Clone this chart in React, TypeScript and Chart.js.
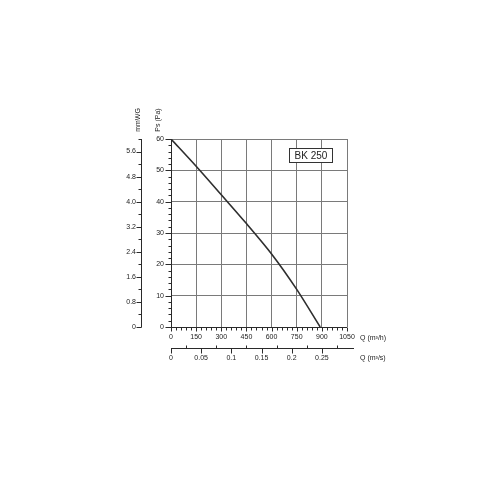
import React, { useEffect, useRef } from 'react';
import { Chart, registerables } from 'chart.js';

Chart.register(...registerables);

// ---- data ----
const FLOW_M3H = [0, 150, 300, 450, 600, 750, 890];
const PRESSURE_PA = [60, 51.3, 42.2, 33, 23.3, 12, 0];
const MODEL_LABEL = 'BK 250';
const TITLE_PA = 'Ps (Pa)';
const TITLE_MMWG = 'mmWG';
const TITLE_QH = 'Q (m³/h)';
const TITLE_QS = 'Q (m³/s)';

const FLOW_MAX_M3H = 1050;
const PA_MAX = 60;
const MMWG_MAX = 6;

const FONT = "'Liberation Sans', Arial, sans-serif";
const TEXT = '#222222';
const AXIS = '#2a2a2a';
const GRID = '#7a7a7a';

const isMult = (v: number, m: number) => Math.abs(v / m - Math.round(v / m)) < 1e-6;

const decorPlugin = {
  id: 'decor',
  afterDraw(chart: any) {
    const ctx = chart.ctx as CanvasRenderingContext2D;
    const area = chart.chartArea;
    const yPa = chart.scales.yPa;
    const yMm = chart.scales.yMm;
    const xH = chart.scales.x;
    const xS = chart.scales.xS;
    ctx.save();
    ctx.strokeStyle = AXIS;
    ctx.lineWidth = 1;
    const line = (x1: number, y1: number, x2: number, y2: number) => {
      ctx.beginPath();
      ctx.moveTo(x1, y1);
      ctx.lineTo(x2, y2);
      ctx.stroke();
    };
    const r = (v: number) => Math.round(v) + 0.5;

    // Pa axis
    const xPa = r(yPa.right);
    line(xPa, area.top, xPa, area.bottom + 0.5);
    yPa.ticks.forEach((t: any) => {
      const y = r(yPa.getPixelForValue(t.value));
      line(xPa - (isMult(t.value, 10) ? 6 : 3), y, xPa, y);
    });

    // mmWG axis
    const xMm = r(yMm.right);
    line(xMm, area.top, xMm, area.bottom + 0.5);
    yMm.ticks.forEach((t: any) => {
      const y = r(yMm.getPixelForValue(t.value));
      line(xMm - (isMult(t.value, 0.8) ? 5 : 3), y, xMm, y);
    });

    // m3/h axis
    const yH = r(xH.top);
    line(area.left, yH, area.right, yH);
    xH.ticks.forEach((t: any) => {
      const x = r(xH.getPixelForValue(t.value));
      line(x, yH, x, yH + (isMult(t.value, 150) ? 4 : 3));
    });

    // m3/s axis
    const yS = r(xS.top);
    line(area.left, yS, area.right + 7, yS);
    xS.ticks.forEach((t: any) => {
      const x = r(xS.getPixelForValue(t.value));
      if (isMult(t.value, 0.05)) line(x, yS, x, yS + 5);
      else line(x, yS - 3, x, yS);
    });

    // titles
    ctx.fillStyle = TEXT;
    ctx.font = `7px ${FONT}`;
    ctx.textBaseline = 'middle';
    ctx.textAlign = 'center';
    const rot = (txt: string, x: number, y: number) => {
      ctx.save();
      ctx.translate(x, y);
      ctx.rotate(-Math.PI / 2);
      ctx.fillText(txt, 0, 0);
      ctx.restore();
    };
    rot(TITLE_PA, yPa.right - 13, area.top - 19);
    rot(TITLE_MMWG, yMm.right - 3, area.top - 19);
    ctx.textAlign = 'left';
    ctx.fillText(TITLE_QH, area.right + 13, xH.top + 11);
    ctx.fillText(TITLE_QS, area.right + 13, xS.top + 10);

    // model label box
    const bx = area.right - 58;
    const by = area.top + 9;
    const bw = 43;
    const bh = 14;
    ctx.fillStyle = '#ffffff';
    ctx.fillRect(bx, by, bw, bh);
    ctx.strokeStyle = '#333333';
    ctx.strokeRect(Math.round(bx) + 0.5, Math.round(by) + 0.5, bw, bh);
    ctx.fillStyle = TEXT;
    ctx.font = `10px ${FONT}`;
    ctx.textAlign = 'center';
    ctx.fillText(MODEL_LABEL, bx + bw / 2 + 0.5, by + bh / 2 + 1);
    ctx.restore();
  },
};

export default function App() {
  const ref = useRef<HTMLCanvasElement | null>(null);
  useEffect(() => {
    if (!ref.current) return;
    const tickFont = { family: FONT, size: 7 };
    const chart = new Chart(ref.current, {
      type: 'scatter',
      data: {
        datasets: [
          {
            data: FLOW_M3H.map((q, i) => ({ x: q, y: PRESSURE_PA[i] })),
            showLine: true,
            borderColor: '#2e2e2e',
            borderWidth: 1.6,
            pointRadius: 0,
            tension: 0.3,
            xAxisID: 'x',
            yAxisID: 'yPa',
          },
        ],
      },
      options: {
        responsive: false,
        animation: false,
        layout: { padding: { left: 110, top: 139, right: 153, bottom: 132 } },
        plugins: { legend: { display: false }, tooltip: { enabled: false } },
        scales: {
          x: {
            type: 'linear',
            position: 'bottom',
            weight: 0,
            min: 0,
            max: FLOW_MAX_M3H,
            ticks: {
              stepSize: 30,
              autoSkip: false,
              maxRotation: 0,
              padding: 6,
              font: tickFont,
              color: TEXT,
              callback: (v: any) => (isMult(v, 150) ? String(v) : ''),
            },
            grid: {
              drawTicks: false,
              color: (c: any) => (c.tick && isMult(c.tick.value, 150) ? GRID : 'rgba(0,0,0,0)'),
              lineWidth: 1,
            },
            border: { display: false },
            afterFit: (s: any) => {
              s.height = 21;
            },
          },
          xS: {
            type: 'linear',
            position: 'bottom',
            weight: 1,
            min: 0,
            max: FLOW_MAX_M3H / 3600,
            ticks: {
              stepSize: 0.025,
              includeBounds: false,
              autoSkip: false,
              maxRotation: 0,
              padding: 6,
              font: tickFont,
              color: TEXT,
              callback: (v: any) => (isMult(v, 0.05) ? String(+Number(v).toFixed(2)) : ''),
            },
            grid: { display: false, drawTicks: false },
            border: { display: false },
            afterFit: (s: any) => {
              s.height = 20;
            },
          },
          yPa: {
            type: 'linear',
            position: 'left',
            weight: 0,
            min: 0,
            max: PA_MAX,
            ticks: {
              stepSize: 2,
              autoSkip: false,
              padding: 7,
              font: tickFont,
              color: TEXT,
              callback: (v: any) => (isMult(v, 10) ? String(v) : ''),
            },
            grid: {
              drawTicks: false,
              color: (c: any) => (c.tick && isMult(c.tick.value, 10) ? GRID : 'rgba(0,0,0,0)'),
              lineWidth: 1,
            },
            border: { display: false },
            afterFit: (s: any) => {
              s.width = 30;
            },
          },
          yMm: {
            type: 'linear',
            position: 'left',
            weight: 1,
            min: 0,
            max: MMWG_MAX,
            ticks: {
              stepSize: 0.4,
              autoSkip: false,
              padding: 5,
              font: tickFont,
              color: TEXT,
              callback: (v: any) => (isMult(v, 0.8) ? (v === 0 ? '0' : Number(v).toFixed(1)) : ''),
            },
            grid: { display: false, drawTicks: false },
            border: { display: false },
            afterFit: (s: any) => {
              s.width = 31;
            },
          },
        },
      } as any,
      plugins: [decorPlugin],
    });
    return () => chart.destroy();
  }, []);
  return (
    <div style={{ position: 'fixed', left: 0, top: 0, width: 500, height: 500, background: '#fff' }}>
      <canvas ref={ref} width={500} height={500} style={{ display: 'block' }} />
    </div>
  );
}
